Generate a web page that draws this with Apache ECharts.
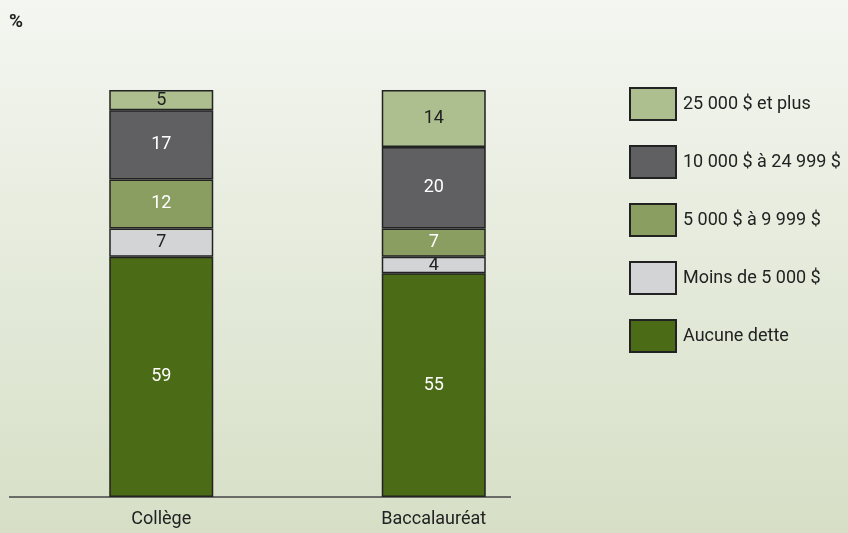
<!DOCTYPE html>
<html><head><meta charset="utf-8">
<script src="https://cdn.jsdelivr.net/npm/echarts@6/dist/echarts.min.js"></script>
<style>html,body{margin:0;padding:0;}#c{width:848px;height:533px;}</style>
</head><body><div id="c"></div>
<script>
const categories = ['Collège', 'Baccalauréat'];
const seriesNames = ['Aucune dette', 'Moins de 5 000 $', '5 000 $ à 9 999 $', '10 000 $ à 24 999 $', '25 000 $ et plus'];
const aucune = [59, 55];
const moins5000 = [7, 4];
const de5000 = [12, 7];
const de10000 = [17, 20];
const plus25000 = [5, 14];
const values = [aucune, moins5000, de5000, de10000, plus25000];
const colors = ['#4b6b17', '#d3d4d6', '#8a9e62', '#606062', '#adbf8f'];
const labelColors = ['#ffffff', '#222222', '#ffffff', '#ffffff', '#222222'];
const FONT = 'Roboto';

const chart = echarts.init(document.getElementById('c'));
chart.setOption({
  animation: false,
  backgroundColor: new echarts.graphic.LinearGradient(0, 0, 0, 1, [
    {offset: 0, color: '#f4f6f1'}, {offset: 1, color: '#d6dfc6'}
  ]),
  textStyle: {fontFamily: FONT},
  title: {
    text: '%', left: 4, top: 8,
    textStyle: {fontSize: 19, fontWeight: 'bold', fontFamily: 'Roboto', color: '#222'}
  },
  grid: {left: 25, right: 278, top: 90, bottom: 36},
  xAxis: {
    type: 'category', data: categories,
    axisLine: {show: false}, axisTick: {show: false},
    axisLabel: {color: '#222', fontSize: 18, margin: 13, fontFamily: FONT}
  },
  yAxis: {type: 'value', min: 0, max: 100, show: false, splitLine: {show: false}},
  legend: {
    data: seriesNames.slice().reverse(),
    orient: 'vertical', left: 629, top: 87, padding: 0,
    itemWidth: 46, itemHeight: 32, itemGap: 24,
    icon: 'rect',
    textStyle: {color: '#222', fontSize: 18, fontFamily: FONT, padding: [0, 0, 0, 2]}
  },
  graphic: [
    {type: 'line', shape: {x1: 9, y1: 497, x2: 511, y2: 497}, style: {stroke: '#444', lineWidth: 1.5}}
  ],
  series: seriesNames.map((n, i) => ({
    name: n, type: 'bar', stack: 'total', data: values[i],
    barWidth: 104,
    itemStyle: {color: colors[i], borderColor: '#222', borderWidth: 1.5},
    label: {show: true, position: 'inside', color: labelColors[i], fontSize: 18, fontFamily: FONT}
  }))
});
</script></body></html>
